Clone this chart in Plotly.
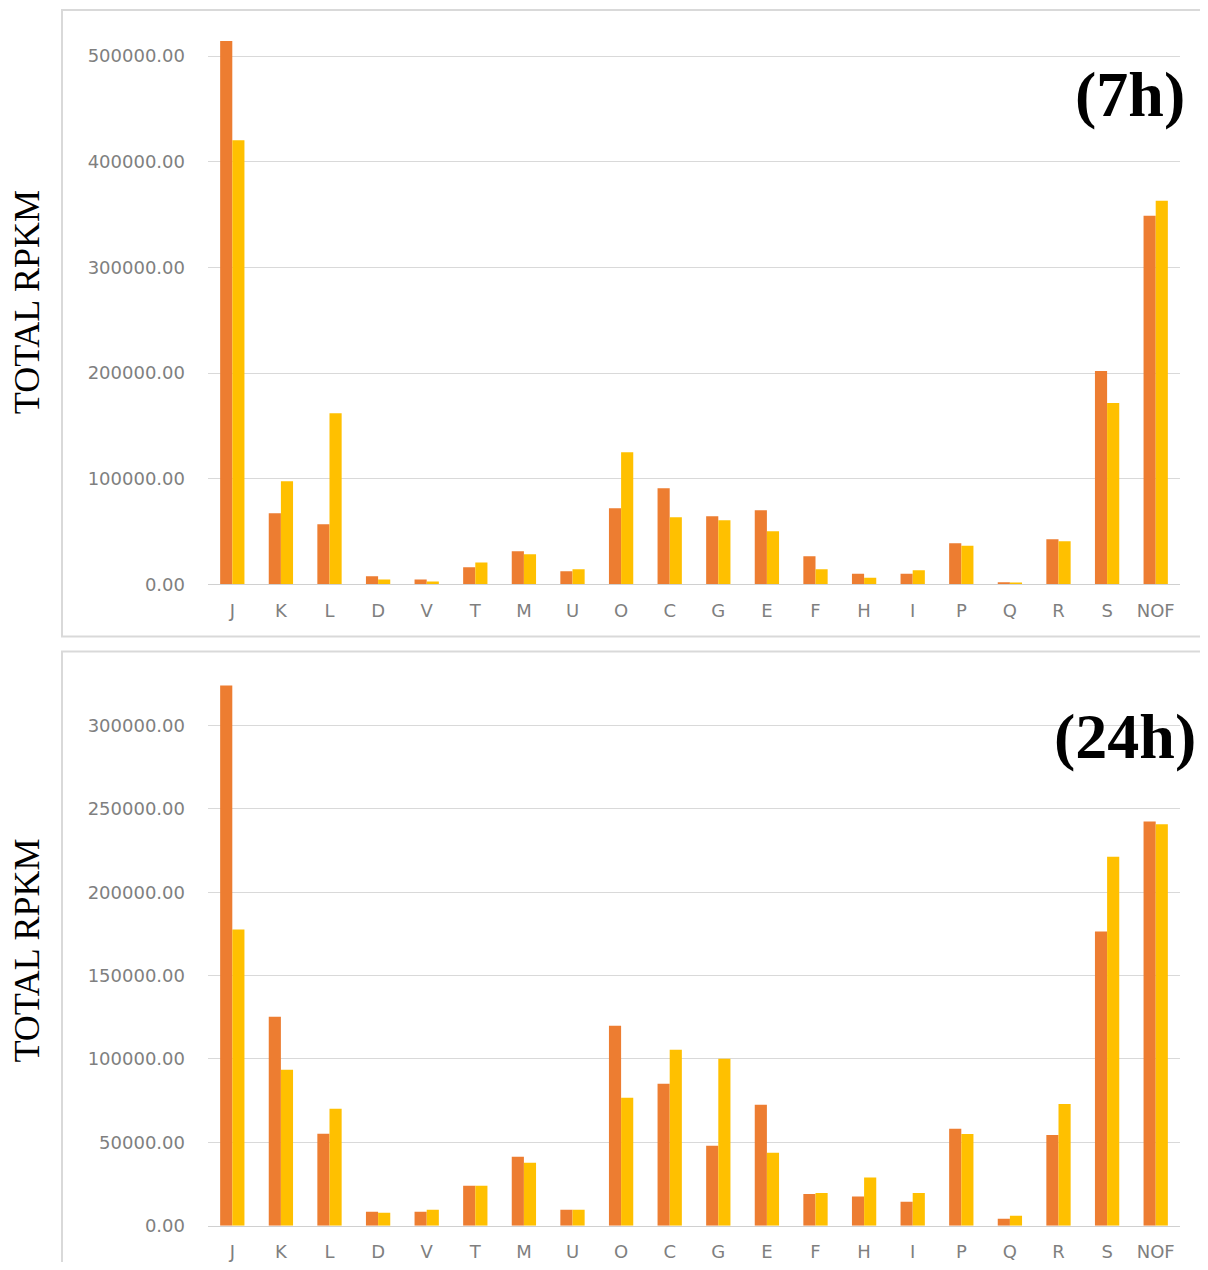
import plotly.graph_objects as go

categories = ["J", "K", "L", "D", "V", "T", "M", "U", "O", "C", "G", "E", "F", "H", "I", "P", "Q", "R", "S", "NOF"]

# 7h panel
h7_series_a = [514200, 67200, 56800, 7600, 4700, 16100, 31300, 12300, 72000, 90900,
               64400, 70100, 26500, 10100, 10100, 38800, 1900, 42600, 202000, 348800]
h7_series_b = [420400, 97500, 162000, 4700, 2800, 20800, 28400, 14200, 125000, 63400,
               60600, 50200, 14200, 6300, 13300, 36600, 1800, 40700, 171700, 363000]

# 24h panel
h24_series_a = [324000, 125400, 55200, 8400, 8400, 24000, 41400, 9600, 120000, 85200,
                48000, 72600, 19000, 17600, 14400, 58200, 4200, 54400, 176400, 242400]
h24_series_b = [177600, 93600, 70200, 7800, 9600, 24000, 37800, 9600, 76800, 105600,
                100200, 43800, 19600, 29000, 19600, 55000, 6000, 73000, 221200, 240800]

h7_ticks = [0, 100000, 200000, 300000, 400000, 500000]
h24_ticks = [0, 50000, 100000, 150000, 200000, 250000, 300000]

ORANGE = "#ED7D31"
YELLOW = "#FFC000"
OFF = 8  # page body margin
W, H = 1208 - 2 * OFF, 1270 - 2 * OFF
VS = 0.9914  # observed vertical scale of the page photograph

fig = go.Figure()
fig.add_trace(go.Bar(x=categories, y=h7_series_a, marker_color=ORANGE, marker_line_width=0,
                     xaxis="x", yaxis="y"))
fig.add_trace(go.Bar(x=categories, y=h7_series_b, marker_color=YELLOW, marker_line_width=0,
                     xaxis="x", yaxis="y"))
fig.add_trace(go.Bar(x=categories, y=h24_series_a, marker_color=ORANGE, marker_line_width=0,
                     xaxis="x2", yaxis="y2"))
fig.add_trace(go.Bar(x=categories, y=h24_series_b, marker_color=YELLOW, marker_line_width=0,
                     xaxis="x2", yaxis="y2"))

def px_x(p):
    return (p - OFF) / W

def px_y(p):
    return 1 - ((p - OFF) / VS) / H

tick_font = dict(family="DejaVu Sans", size=18, color="#7F7F7F")
xdom = [px_x(208), px_x(1180)]

common_x = dict(showgrid=False, showline=True, linecolor="#D0D0D0", linewidth=1,
                ticks="", tickfont=tick_font, ticklabelstandoff=10, fixedrange=True)
common_y = dict(showgrid=True, gridcolor="#D9D9D9", gridwidth=1, showline=False,
                zeroline=False, ticks="", tickfont=tick_font, tickformat=".2f",
                ticklabelstandoff=22, fixedrange=True)

fig.update_layout(
    width=W, height=H,
    margin=dict(l=0, r=0, t=0, b=0),
    paper_bgcolor="white", plot_bgcolor="white",
    barmode="group", bargap=0.5, bargroupgap=0,
    showlegend=False,
    xaxis=dict(domain=xdom, anchor="y", **common_x),
    yaxis=dict(domain=[px_y(584), px_y(20)], range=[0, 534091], anchor="x",
               tickvals=h7_ticks, **common_y),
    xaxis2=dict(domain=xdom, anchor="y2", **common_x),
    yaxis2=dict(domain=[px_y(1225), px_y(665)], range=[0, 336000], anchor="x2",
                tickvals=h24_ticks, **common_y),
)

# panel frames
frame_line = dict(color="#D9D9D9", width=2)
fig.add_shape(type="rect", xref="paper", yref="paper",
              x0=px_x(62), x1=px_x(1230), y0=px_y(636), y1=px_y(10), line=frame_line, layer="below")
fig.add_shape(type="rect", xref="paper", yref="paper",
              x0=px_x(62), x1=px_x(1230), y0=-0.05, y1=px_y(651), line=frame_line, layer="below")

title_font = dict(family="Liberation Serif", size=36, color="black")
fig.add_annotation(text="TOTAL RPKM", xref="paper", yref="paper", x=px_x(27), y=px_y(302),
                   textangle=-90, showarrow=False, font=title_font, xanchor="center", yanchor="middle")
fig.add_annotation(text="TOTAL RPKM", xref="paper", yref="paper", x=px_x(27), y=px_y(950),
                   textangle=-90, showarrow=False, font=title_font, xanchor="center", yanchor="middle")

label_font = dict(family="Liberation Serif", size=64, color="black")
fig.add_annotation(text="<b>(7h)</b>", xref="paper", yref="paper", x=px_x(1130), y=px_y(94),
                   showarrow=False, font=label_font, xanchor="center", yanchor="middle")
fig.add_annotation(text="<b>(24h)</b>", xref="paper", yref="paper", x=px_x(1125), y=px_y(736),
                   showarrow=False, font=label_font, xanchor="center", yanchor="middle")

fig.write_html("out.html")
